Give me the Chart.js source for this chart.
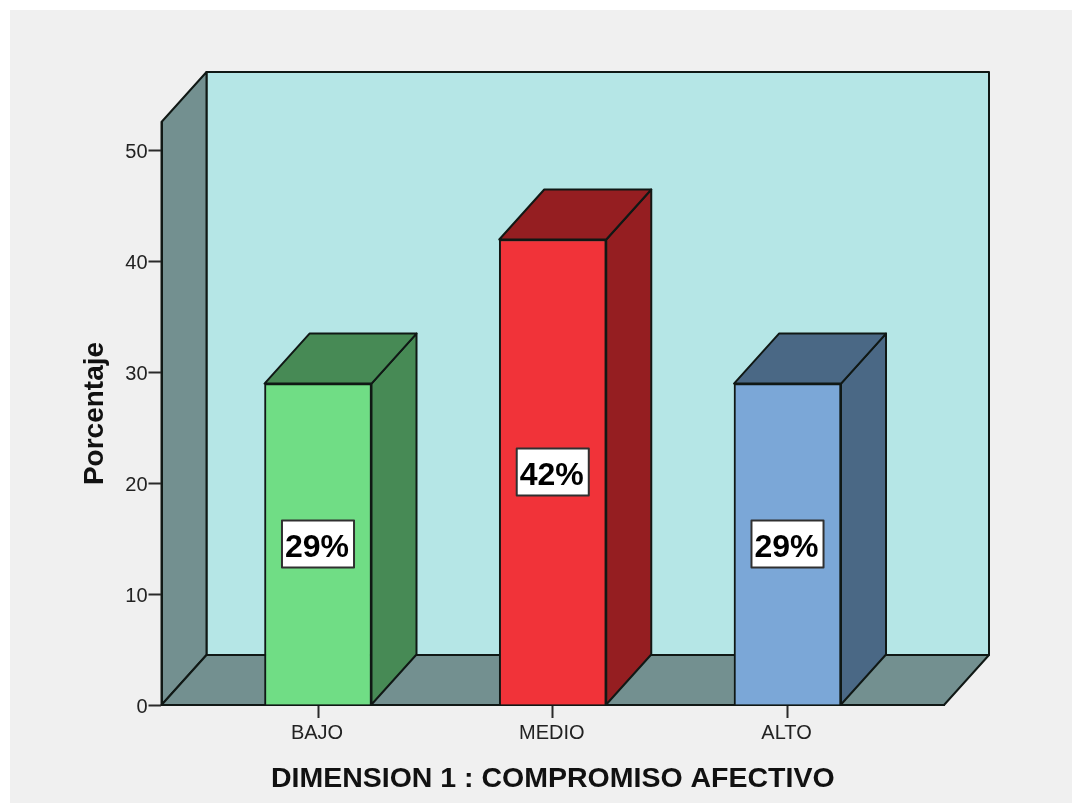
<!DOCTYPE html>
<html>
<head>
<meta charset="utf-8">
<title>Dimension 1</title>
<script src="https://cdn.jsdelivr.net/npm/chart.js@4"></script>
<style>
    html, body { margin: 0; padding: 0; background: #ffffff; }
    #chart-box { position: absolute; left: 0; top: 0; width: 1072px; height: 803px; }
</style>
</head>
<body>
<div id="chart-box"><canvas id="dim-canvas"></canvas></div>
<script>
const categories = ["BAJO", "MEDIO", "ALTO"];
const percentValues = [29, 42, 29];
const categoryPositions = [1, 2, 3];
const yTickValues = [0, 10, 20, 30, 40, 50];

const frontColors = ['#70dd85', '#f13339', '#7ba7d7'];
const shadeColors = ['#478a55', '#951e21', '#4a6885'];

// desplazamiento de la perspectiva, en pixeles
const depthX = 45;
const depthY = 50;
const lineColor = '#101815';

function polygon(ctx, points, fill) {
    ctx.beginPath();
    points.forEach((p, i) => i ? ctx.lineTo(p[0], p[1]) : ctx.moveTo(p[0], p[1]));
    ctx.closePath();
    ctx.fillStyle = fill;
    ctx.fill();
    ctx.lineWidth = 2;
    ctx.lineJoin = 'round';
    ctx.strokeStyle = lineColor;
    ctx.stroke();
}

// fondo gris, pared trasera, pared izquierda y piso
const wallsPlugin = {
    id: 'walls',
    beforeDraw(chart) {
        const { ctx, chartArea: a } = chart;
        ctx.save();
        ctx.fillStyle = '#f0f0f0';
        ctx.fillRect(10, 10, 1062, 793);
        polygon(ctx, [[a.left + depthX, a.top - depthY], [a.right + depthX, a.top - depthY],
                      [a.right + depthX, a.bottom - depthY], [a.left + depthX, a.bottom - depthY]], '#b5e6e6');
        polygon(ctx, [[a.left, a.top], [a.left + depthX, a.top - depthY],
                      [a.left + depthX, a.bottom - depthY], [a.left, a.bottom]], '#739090');
        polygon(ctx, [[a.left, a.bottom], [a.left + depthX, a.bottom - depthY],
                      [a.right + depthX, a.bottom - depthY], [a.right, a.bottom]], '#739090');
        ctx.restore();
    }
};

// caras laterales y superiores de cada barra, mas la etiqueta con el porcentaje
const barFacesPlugin = {
    id: 'barFaces',
    afterDatasetsDraw(chart) {
        const { ctx } = chart;
        ctx.save();
        chart.getDatasetMeta(0).data.forEach((bar, i) => {
            const left = bar.x - bar.width / 2;
            const right = bar.x + bar.width / 2;
            polygon(ctx, [[right, bar.y], [right + depthX, bar.y - depthY],
                          [right + depthX, bar.base - depthY], [right, bar.base]], shadeColors[i]);
            polygon(ctx, [[left, bar.y], [left + depthX, bar.y - depthY],
                          [right + depthX, bar.y - depthY], [right, bar.y]], shadeColors[i]);

            const text = percentValues[i] + '%';
            const midY = (bar.y + bar.base) / 2;
            ctx.font = 'bold 32px "Liberation Sans"';
            ctx.textAlign = 'center';
            ctx.textBaseline = 'middle';
            const boxW = ctx.measureText(text).width + 8;
            const boxH = 47;
            ctx.fillStyle = '#ffffff';
            ctx.fillRect(bar.x - boxW / 2, midY - boxH / 2, boxW, boxH);
            ctx.lineWidth = 2;
            ctx.strokeStyle = '#303030';
            ctx.strokeRect(bar.x - boxW / 2, midY - boxH / 2, boxW, boxH);
            ctx.fillStyle = '#000000';
            ctx.fillText(text, bar.x - 1, midY + 4);
        });
        ctx.restore();
    }
};

document.addEventListener("DOMContentLoaded", () => {
    const ctxBar = document.getElementById('dim-canvas').getContext('2d');

    new Chart(ctxBar, {
        type: 'bar',
        data: {
            datasets: [{
                data: percentValues.map((v, i) => ({ x: categoryPositions[i], y: v })),
                backgroundColor: frontColors,
                borderColor: lineColor,
                borderWidth: 2,
                barThickness: 107
            }]
        },
        options: {
            responsive: true,
            maintainAspectRatio: false,
            animation: false,
            layout: { padding: { top: 122, right: 128, left: 0, bottom: 0 } },
            plugins: {
                legend: { display: false },
                tooltip: { enabled: false }
            },
            scales: {
                x: {
                    type: 'linear',
                    offset: false,
                    min: 1 - 2 / 3,
                    max: 3 + 2 / 3,
                    afterFit: scale => { scale.height = 98; },
                    afterBuildTicks: scale => { scale.ticks = categoryPositions.map(value => ({ value })); },
                    grid: { offset: false, drawOnChartArea: false, tickLength: 13, tickColor: '#2a2a2a', tickWidth: 2 },
                    border: { color: lineColor, width: 2 },
                    ticks: {
                        autoSkip: false,
                        maxRotation: 0,
                        color: '#222222',
                        padding: 3,
                        labelOffset: -1,
                        font: { family: '"Liberation Sans"', size: 20 },
                        callback: value => categories[categoryPositions.indexOf(value)]
                    },
                    title: {
                        display: true,
                        text: 'DIMENSION 1 : COMPROMISO AFECTIVO',
                        color: '#111111',
                        font: { family: '"Liberation Sans"', size: 28.5, weight: 'bold' },
                        padding: { top: 9, bottom: 7 }
                    }
                },
                y: {
                    min: 0,
                    max: 52.6,
                    afterFit: scale => { scale.width = 161.5; },
                    afterBuildTicks: scale => { scale.ticks = yTickValues.map(value => ({ value })); },
                    grid: { drawOnChartArea: false, tickLength: 13, tickColor: '#2a2a2a', tickWidth: 2 },
                    border: { color: lineColor, width: 2 },
                    ticks: {
                        color: '#222222',
                        padding: 1,
                        labelOffset: 2,
                        font: { family: '"Liberation Sans"', size: 20 }
                    },
                    title: {
                        display: true,
                        text: 'Porcentaje',
                        color: '#111111',
                        font: { family: '"Liberation Sans"', size: 28, weight: 'bold' },
                        padding: { top: 78, bottom: 0 }
                    }
                }
            }
        },
        plugins: [wallsPlugin, barFacesPlugin]
    });
});
</script>
</body>
</html>
